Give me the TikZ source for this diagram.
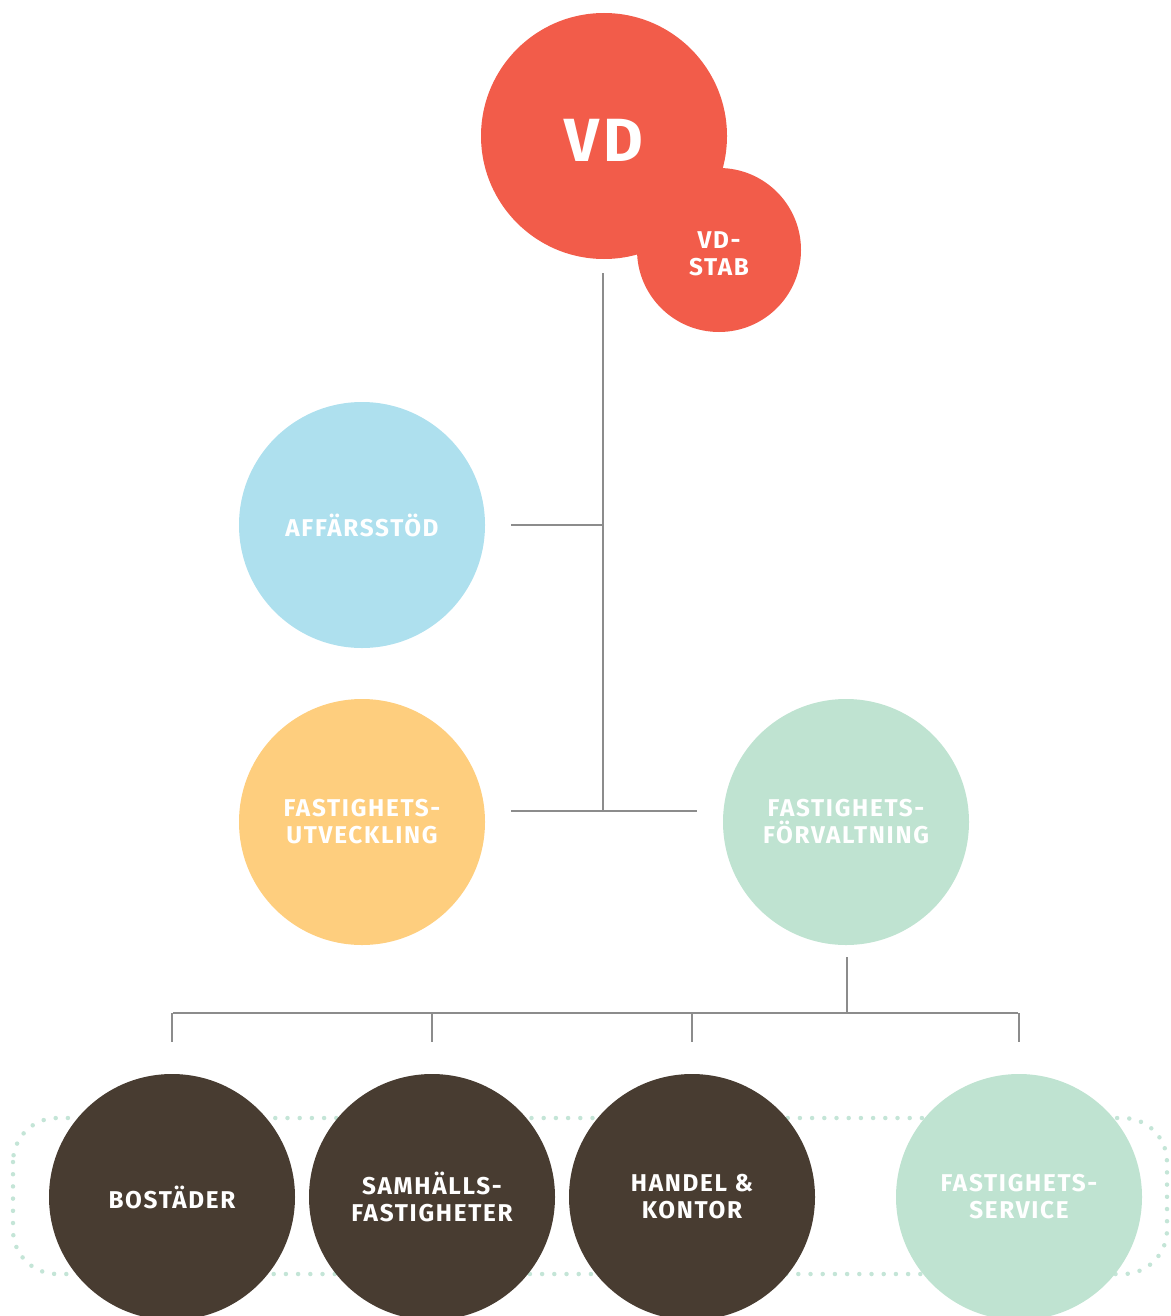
\documentclass[tikz,border=0pt]{standalone}
\usepackage{fontspec}
\setmainfont{Fira Sans}[LetterSpace=7]
\definecolor{vdred}{HTML}{F25C4A}
\definecolor{skyblue}{HTML}{AEE0EE}
\definecolor{sand}{HTML}{FECE7E}
\definecolor{mint}{HTML}{BFE3D1}
\definecolor{bark}{HTML}{483C31}
\definecolor{linegray}{HTML}{8C8C8C}
\definecolor{dotmint}{HTML}{C4E5D7}
\begin{document}
\begin{tikzpicture}[x=1pt,y=-1pt,
  org/.style={circle, minimum size=246pt, inner sep=0pt, text=white, align=center,
    font=\bfseries\fontsize{24.3}{27}\selectfont},
  label text/.style={text=white, align=center, font=\bfseries\fontsize{24.3}{27}\selectfont},
  link/.style={draw=linegray, line width=1.4pt},
  band/.style={draw=dotmint, line width=4.5pt, line cap=round,
    dash pattern=on 0pt off 12.2pt, rounded corners=44pt}]
\useasboundingbox (0,0) rectangle (1170,1316);
\clip (0,0) rectangle (1170,1316);

% dotted band behind the unit row
\draw[band] (13,1118) rectangle (1167,1274);

% management
\node[org, fill=vdred] (vd) at (604,136) {};
\node[org, fill=vdred, minimum size=164pt] (stab) at (719,250) {};
\node[text=white, font=\bfseries\fontsize{61}{61}\selectfont] (vdtext) at (604,140) {VD};
\node[label text] (stabtext) at (719,254) {VD-\\STAB};

% departments
\node[org, fill=skyblue] (aff) at (362,525) {AFFÄRSSTÖD};
\node[org, fill=sand] (utv) at (362,822) {FASTIGHETS-\\UTVECKLING};
\node[org, fill=mint] (forv) at (846,822) {FASTIGHETS-\\FÖRVALTNING};

% units
\node[org, fill=bark] (bost) at (172,1197) {BOSTÄDER};
\node[org, fill=bark] (samh) at (432,1197) {SAMHÄLLS-\\FASTIGHETER};
\node[org, fill=bark] (hand) at (692,1197) {HANDEL \&\\KONTOR};
\node[org, fill=mint] (serv) at (1019,1197) {FASTIGHETS-\\SERVICE};

% trunk from the top
\coordinate (trunktop) at (603,273);
\coordinate (trunkjoin) at (603,811);
\draw[link] (trunktop) -- (trunkjoin);
\draw[link] ([xshift=26pt]aff.east) -- (aff.east -| trunktop);
\coordinate (utvend) at (511,811);
\coordinate (forvend) at (697,811);
\draw[link] (utvend) -- (forvend);

% branch to the units
\coordinate (forvdrop) at (847,957);
\coordinate (busleft) at (173,1013);
\coordinate (busright) at (1018,1013);
\draw[link] (forvdrop) -- (forvdrop |- busleft);
\draw[link] (busleft) -- (busright);
\foreach \u in {bost,samh,hand,serv}
  \draw[link] (\u.north |- busleft) -- ++(0,29);
\end{tikzpicture}
\end{document}
